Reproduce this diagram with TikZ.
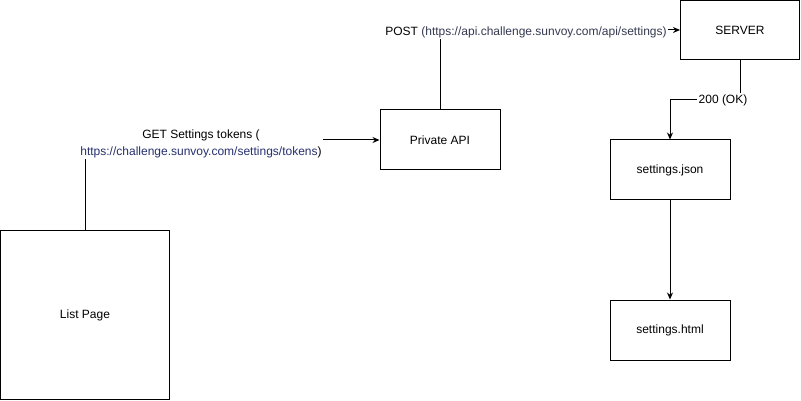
\documentclass[tikz,border=0pt]{standalone}
\usepackage{fontspec}
\setmainfont{Liberation Sans}
\usetikzlibrary{arrows.meta}
\definecolor{urlnavy}{RGB}{38,48,110}
\definecolor{urlslate}{RGB}{52,58,80}
\tikzset{
  box/.style={draw=black, line width=1pt, minimum width=120pt, minimum height=60pt, inner sep=0pt, font=\fontsize{12}{14}\selectfont},
  conn/.style={draw=black, line width=1pt, -{Stealth[length=7pt,width=6pt]}},
  elabel/.style={fill=white, inner sep=1.5pt, font=\fontsize{12}{16.5}\selectfont, align=center}
}
\begin{document}
\begin{tikzpicture}[x=1pt,y=-1pt]
\useasboundingbox (0,0) rectangle (801,401);
\node[box, minimum width=169pt, minimum height=169pt] (list) at (85,315) {List Page};
\node[box] (api) at (440,140) {Private API};
\node[box, minimum width=119pt, minimum height=59pt] (server) at (740,30) {SERVER};
\node[box] (json) at (670,170) {settings.json};
\node[box] (html) at (670,330) {settings.html};
% GET
\draw[conn] (list.north) |- (api.west);
\node[elabel] (getlbl) at (201,144) {GET Settings tokens (\\\textcolor{urlnavy}{https://challenge.sunvoy.com/settings/tokens})};
% POST
\draw[conn] (api.north) |- (server.west);
\node[elabel] (postlbl) at (526,32) {POST \textcolor{urlslate}{(https://api.challenge.sunvoy.com/api/settings)}};
% 200 OK
\coordinate (okc) at (740,100);
\draw[conn] (server.south) -- (okc) -| (json.north);
\node[elabel] (oklbl) at (723,100) {200 (OK)};
% json -> html
\draw[conn] (json.south) -- (html.north);
\end{tikzpicture}
\end{document}
